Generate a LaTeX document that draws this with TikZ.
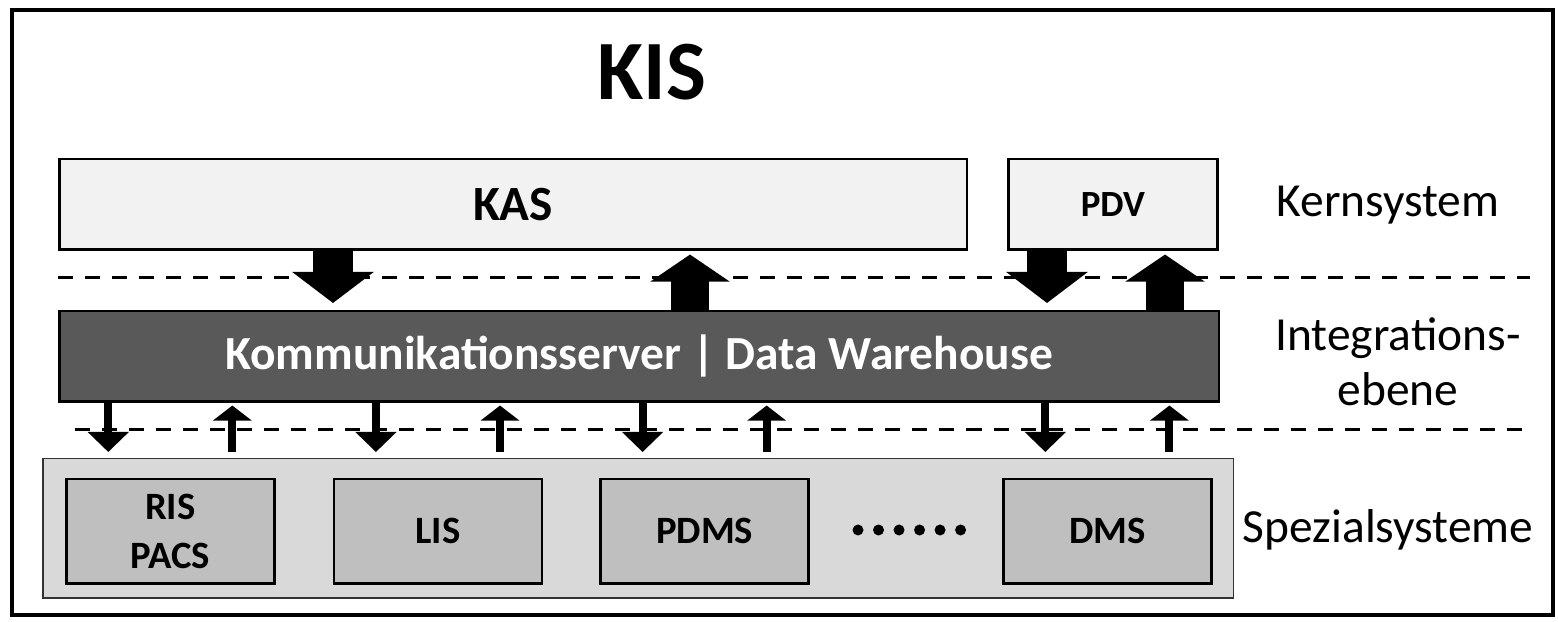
\documentclass[tikz,border=0pt]{standalone}
\usepackage{fontspec}
\setmainfont{Carlito}
\usepackage{tikz}
\usetikzlibrary{positioning,arrows.meta}

\definecolor{kasgray}{HTML}{F2F2F2}
\definecolor{commgray}{HTML}{595959}
\definecolor{spezgray}{HTML}{D9D9D9}
\definecolor{subgray}{HTML}{BFBFBF}

\begin{document}
\begin{tikzpicture}[x=0.01cm,y=-0.01cm,
  topbox/.style={draw=black,line width=0.025cm,fill=kasgray,minimum height=0.9cm,font=\bfseries},
  subbox/.style={draw=black,line width=0.025cm,fill=subgray,minimum width=2.08cm,minimum height=1.04cm,font=\fontsize{11}{12}\selectfont\bfseries,align=center,inner sep=0pt},
  layer/.style={font=\fontsize{13.5}{15.5}\selectfont,align=center},
  sepline/.style={dash pattern=on 0.15cm off 0.12cm,line width=0.03cm},
  bigdown/.style={line width=0.4cm,-{Triangle[width=0.8cm,length=0.31cm]},shorten >=0.07cm},
  bigup/.style={line width=0.38cm,-{Triangle[width=0.78cm,length=0.27cm]},shorten <=0cm,shorten >=0.04cm},
  smalldown/.style={line width=0.08cm,-{Triangle[width=0.4cm,length=0.2cm]},shorten >=0.06cm},
  smallup/.style={line width=0.08cm,-{Triangle[width=0.38cm,length=0.15cm]},shorten <=0.06cm,shorten >=0.03cm}]

\useasboundingbox (0,0) rectangle (1558,622);
\draw[line width=0.04cm] (12,10) rectangle (1553,615);

\node[font=\fontsize{24}{28}\selectfont\bfseries] (kis) at (652,72) {KIS};

% Kernsystem
\node[topbox,minimum width=9.07cm,anchor=north west,font=\fontsize{14}{16}\selectfont\bfseries] (kas) at (58,158) {KAS};
\node[topbox,minimum width=2.09cm,right=0.39cm of kas,font=\fontsize{10.5}{12}\selectfont\bfseries] (pdv) {PDV};

% Integrationsebene
\node[draw=black,line width=0.025cm,fill=commgray,text=white,minimum width=11.59cm,minimum height=0.9cm,
  anchor=north west,font=\fontsize{13.5}{16}\selectfont\bfseries] (comm) at (58,310) {Kommunikationsserver | Data Warehouse};

% Spezialsysteme
\node[draw=black!80,line width=0.015cm,fill=spezgray,minimum width=11.9cm,minimum height=1.39cm,anchor=north west] (spez) at (42,458) {};
\node[subbox,anchor=north west] (ris) at (65,478) {RIS\\[2pt]PACS};
\node[subbox,right=0.57cm of ris] (lis) {LIS};
\node[subbox,right=0.56cm of lis] (pdms) {PDMS};
\node[subbox,right=1.92cm of pdms] (dms) {DMS};
\coordinate (dots) at (858,530);
\foreach \i in {0,...,5}
  \fill ([xshift=\i*0.205cm]dots) circle (0.055cm);

% labels right
\node[layer] (kern) at (1388,205) {Kernsystem};
\node[layer] (integ) at (1398,362) {Integrations-\\ebene};
\node[layer] (spezlab) at (1388,530) {Spezialsysteme};

% dashed separators
\coordinate (d1a) at (58,278);
\coordinate (d1b) at (1530,278);
\coordinate (d2a) at (75,430);
\coordinate (d2b) at (1530,430);
\draw[sepline] (d1a) -- (d1b);
\draw[sepline] (d2a) -- (d2b);

% big arrows
\coordinate (x1) at (333,0);
\coordinate (x2) at (690,0);
\coordinate (x3) at (1047,0);
\coordinate (x4) at (1165,0);
\draw[bigdown] (kas.south -| x1) -- (comm.north -| x1);
\draw[bigup] (comm.north -| x2) -- (kas.south -| x2);
\draw[bigdown] (pdv.south -| x3) -- (comm.north -| x3);
\draw[bigup] (comm.north -| x4) -- (pdv.south -| x4);

% small arrows
\draw[smalldown] ([xshift=-0.62cm]ris.north |- comm.south) -- ([xshift=-0.62cm]ris.north |- spez.north);
\draw[smallup] ([xshift=0.62cm]ris.north |- spez.north) -- ([xshift=0.62cm]ris.north |- comm.south);
\draw[smalldown] ([xshift=-0.62cm]lis.north |- comm.south) -- ([xshift=-0.62cm]lis.north |- spez.north);
\draw[smallup] ([xshift=0.62cm]lis.north |- spez.north) -- ([xshift=0.62cm]lis.north |- comm.south);
\draw[smalldown] ([xshift=-0.62cm]pdms.north |- comm.south) -- ([xshift=-0.62cm]pdms.north |- spez.north);
\draw[smallup] ([xshift=0.62cm]pdms.north |- spez.north) -- ([xshift=0.62cm]pdms.north |- comm.south);
\draw[smalldown] ([xshift=-0.62cm]dms.north |- comm.south) -- ([xshift=-0.62cm]dms.north |- spez.north);
\draw[smallup] ([xshift=0.62cm]dms.north |- spez.north) -- ([xshift=0.62cm]dms.north |- comm.south);

\end{tikzpicture}
\end{document}
